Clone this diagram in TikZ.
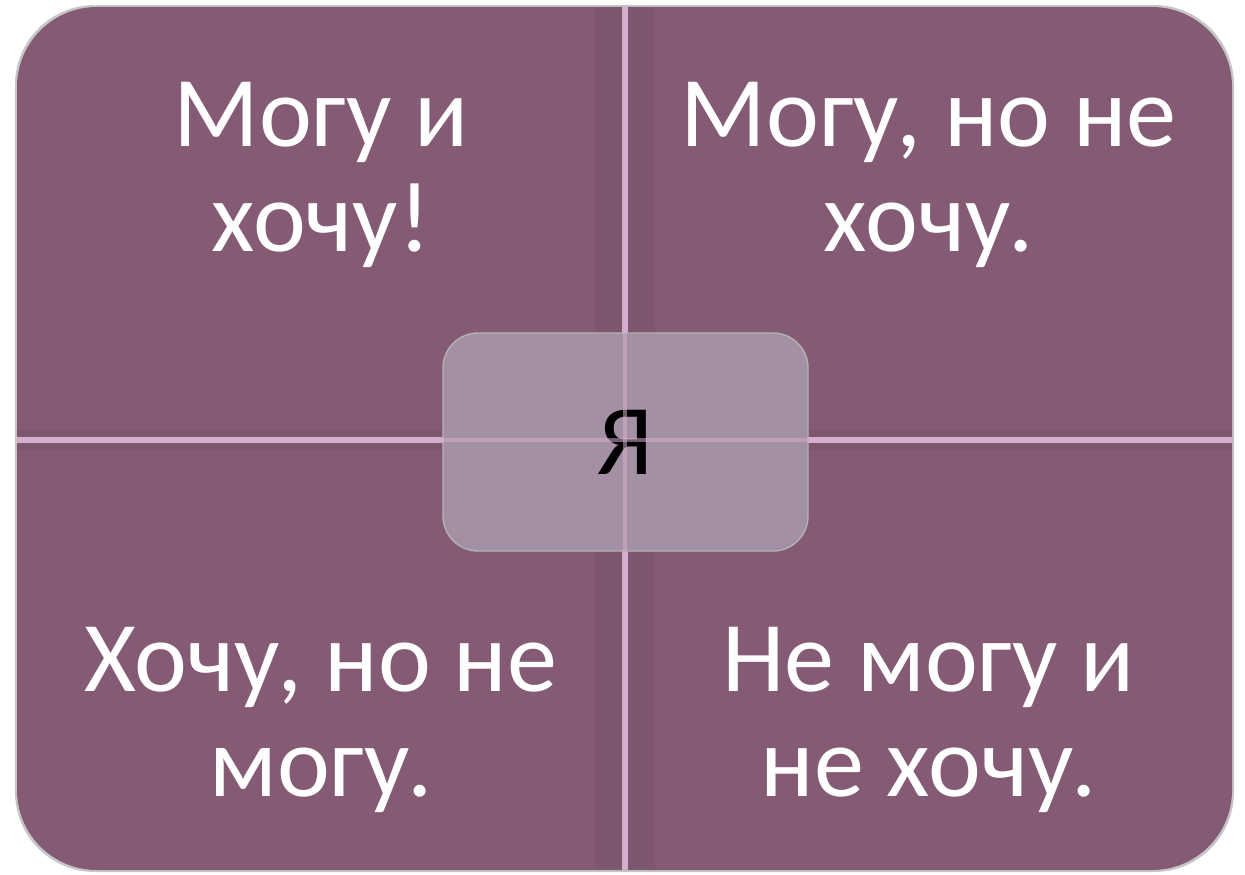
\documentclass[tikz,border=0pt]{standalone}
\usepackage{fontspec}
\setmainfont{Carlito}
\usetikzlibrary{positioning}
\definecolor{plum}{HTML}{855A74}
\definecolor{plumlight}{HTML}{A490A4}
\definecolor{seam}{HTML}{D4AECD}

\begin{document}
\begin{tikzpicture}
\tikzset{
  quad/.style={align=center,inner sep=0pt,text=white,font=\fontsize{28.5}{30}\selectfont},
  seamline/.style={draw=seam,line width=1.6pt},
}
\useasboundingbox (0,0) rectangle (12.45,8.74);

% background
\fill[gray!45,rounded corners=0.8cm] (0.15,0.02) rectangle (12.34,8.69);
\fill[plum,rounded corners=0.8cm] (0.17,0.04) rectangle (12.32,8.67);

\coordinate (top) at (6.25,8.67);
\coordinate (bot) at (6.25,0.04);
\coordinate (lft) at (0.17,4.34);
\coordinate (rgt) at (12.32,4.34);

% shaded edges of the seams
\foreach \d in {-1,1} {
\fill[black,opacity=0.04] (6.25,0.04) rectangle ++(\d*0.3,8.63);
\fill[black,opacity=0.05] (0.17,4.34) rectangle ++(12.15,\d*0.1);
}

\draw[seamline] (top) -- (bot);
\draw[seamline] (lft) -- (rgt);

\node (me) [draw=gray!60,fill=plumlight,rounded corners=0.35cm,
  minimum width=3.65cm,minimum height=2.18cm,
  font=\fontsize{28.5}{30}\selectfont] at (6.255,4.32) {Я};
\draw[seam,line width=1.2pt,opacity=0.55] (me.north -| top) -- (me.south -| top);
\draw[seam,line width=1.2pt,opacity=0.55] (me.west |- lft) -- (me.east |- lft);

\node (q1) [quad] at (3.21,6.99) {Могу и\\хочу!};
\node (q2) [quad] at (9.285,6.99) {Могу, но не\\хочу.};
\node (q3) [quad] at (3.21,1.54) {Хочу, но не\\могу.};
\node (q4) [quad] at (9.285,1.54) {Не могу и\\не хочу.};
\end{tikzpicture}
\end{document}
